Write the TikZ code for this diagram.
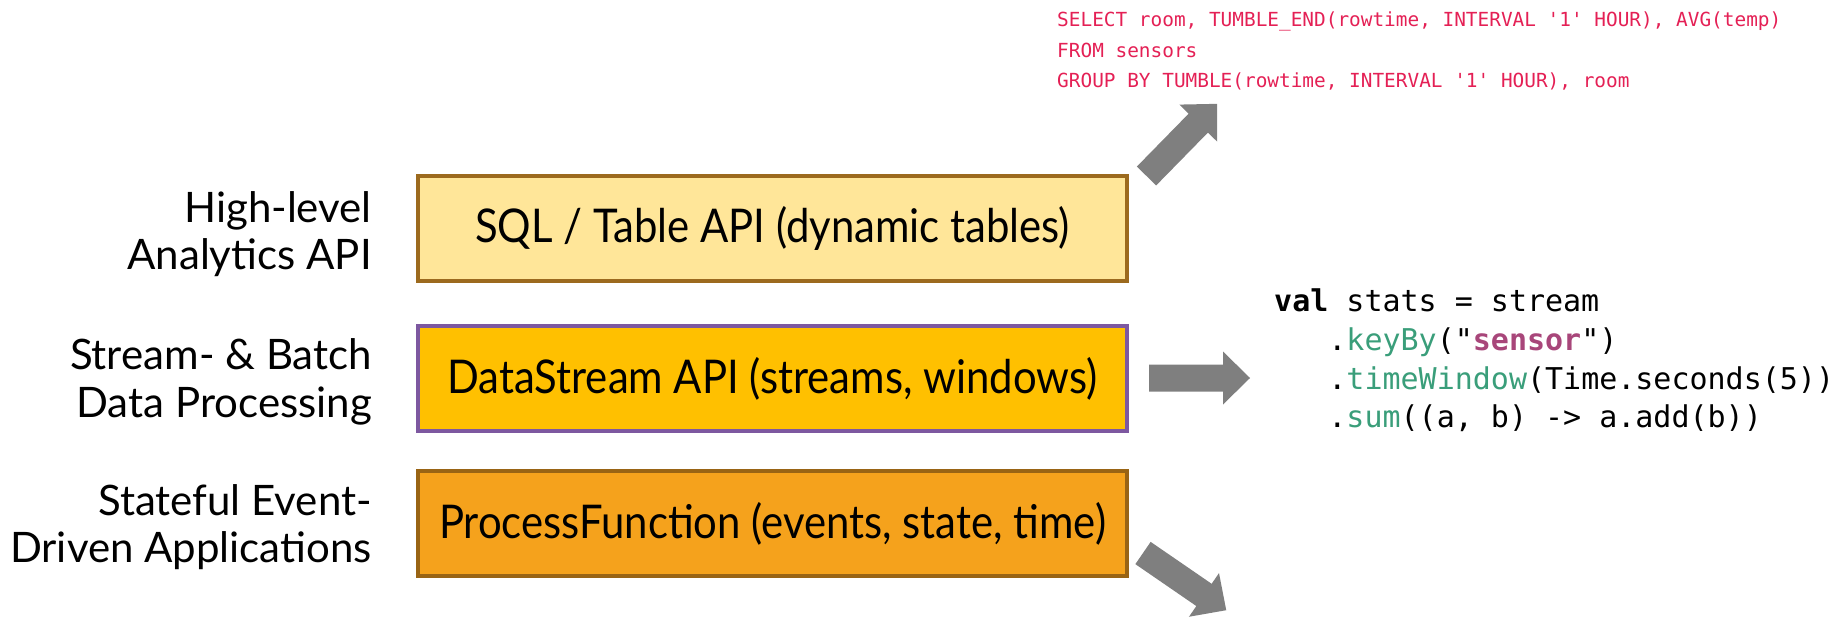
\documentclass[tikz,border=0pt]{standalone}
\usepackage{fontspec}
\setmainfont{Lato}
\newfontfamily\boxfont[FakeStretch=0.9]{Lato}
\newfontfamily\codefont{DejaVu Sans Mono}
\definecolor{tablefill}{RGB}{255,230,153}
\definecolor{tableline}{RGB}{156,106,30}
\definecolor{streamfill}{RGB}{255,192,0}
\definecolor{streamline}{RGB}{125,88,160}
\definecolor{procfill}{RGB}{245,162,28}
\definecolor{procline}{RGB}{153,100,20}
\definecolor{arrowgray}{RGB}{127,127,127}
\definecolor{sqlred}{RGB}{228,32,85}
\definecolor{methodteal}{RGB}{58,158,122}
\definecolor{strmagenta}{RGB}{168,70,122}
\tikzset{
  layerbox/.style={rectangle, minimum width=709pt, minimum height=105pt,
    line width=3.5pt, inner sep=0pt, font=\boxfont\fontsize{46.5}{52}\selectfont},
  layerlabel/.style={anchor=east, align=right, inner sep=0pt,
    font=\fontsize{42}{47.5}\selectfont},
  blockarrow/.style={fill=arrowgray, draw=none},
}
\newcommand{\meth}[1]{\textcolor{methodteal}{#1}}
\begin{document}
\begin{tikzpicture}[x=1pt, y=-1pt]
\useasboundingbox (0,0) rectangle (1833,618);

% the three API layers
\node[layerbox, draw=tableline, fill=tablefill] (sql) at (772.5,228.5)
  {SQL / Table API (dynamic tables)};
\node[layerbox, draw=streamline, fill=streamfill] (ds) at (772.5,378.5)
  {DataStream API (streams, windows)};
\node[layerbox, draw=procline, fill=procfill] (pf) at (772.5,523.5)
  {ProcessFunction (events, state, time)};

% what each layer is for
\node[layerlabel] (lsql) at (372,234) {High-level\\Analytics API};
\node[layerlabel] (lds) at (372,382) {Stream- \& Batch\\Data Processing};
\node[layerlabel] (lpf) at (372,527) {Stateful Event-\\Driven Applications};

% SQL example
\node[anchor=west, align=left, inner sep=0pt, text=sqlred,
  font=\codefont\fontsize{19.4}{30.5}\selectfont] (sqlcode) at (1057,51)
  {SELECT room, TUMBLE\_END(rowtime, INTERVAL '1' HOUR), AVG(temp)\\
   FROM sensors\\
   GROUP BY TUMBLE(rowtime, INTERVAL '1' HOUR), room};

% DataStream example
\node[anchor=west, align=left, inner sep=0pt,
  font=\codefont\fontsize{30}{38.6}\selectfont] (dscode) at (1274,360.5)
  {\textbf{val} stats = stream\\
   \hphantom{xxx}.\meth{keyBy}("\textbf{\textcolor{strmagenta}{sensor}}")\\
   \hphantom{xxx}.\meth{timeWindow}(Time.seconds(5))\\
   \hphantom{xxx}.\meth{sum}((a, b) -> a.add(b))};

% block arrows pointing from the layers to their examples
\newcommand{\arrowbody}{(0,-13.5) -- (74,-13.5) -- (74,-26.5) -- (101,0)
  -- (74,26.5) -- (74,13.5) -- (0,13.5) -- cycle}
\fill[blockarrow, shift={(1146.5,176)}, rotate=45.6] \arrowbody;
\fill[blockarrow, shift={(1149,378)}] \arrowbody;
\fill[blockarrow, shift={(1143,553)}, rotate=-34.5] \arrowbody;
\end{tikzpicture}
\end{document}
